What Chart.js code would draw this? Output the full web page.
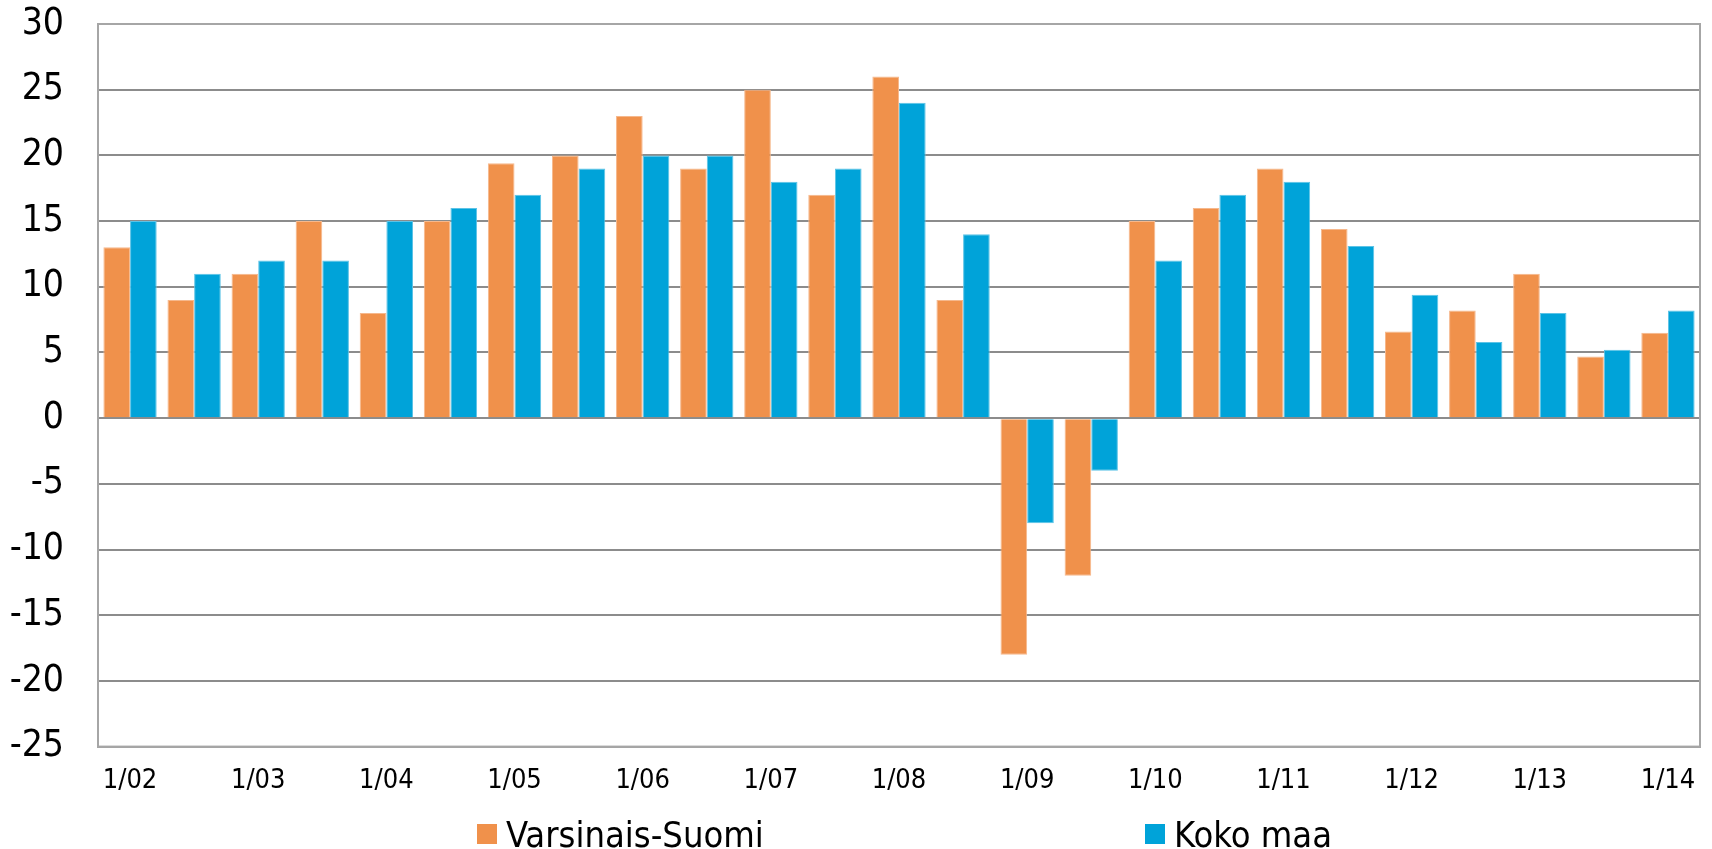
<!DOCTYPE html>
<html>
<head>
<meta charset="utf-8">
<script src="https://cdn.jsdelivr.net/npm/chart.js@4.4.1/dist/chart.umd.min.js"></script>
<style>
  html, body { margin: 0; padding: 0; background: #fff; }
  #wrap { position: relative; width: 1712px; height: 849px; }
  #legend .item { position: absolute; top: 814px; height: 40px; display: flex; align-items: center;
    font-family: 'Liberation Sans Narrow', 'DejaVu Sans Condensed', 'Liberation Sans', sans-serif;
    font-size: 36px; color: #000; white-space: nowrap; }
  #legend .box { width: 20px; height: 20px; margin-right: 9px; }
</style>
</head>
<body>
<div id="wrap">
  <canvas id="barChart" width="1712" height="849"></canvas>
  <div id="legend"></div>
</div>
<script>
// vuosineljännekset, joka toinen nimetty
var kvartaalit = ['1/02', '', '1/03', '', '1/04', '', '1/05', '', '1/06', '', '1/07', '', '1/08', '',
                  '1/09', '', '1/10', '', '1/11', '', '1/12', '', '1/13', '', '1/14'];

var varsinaisSuomi = [13, 9, 11, 15, 8, 15, 19.4, 20, 23, 19, 25, 17, 26, 9,
                      -18, -12, 15, 16, 19, 14.4, 6.6, 8.2, 11, 4.7, 6.5];

var kokoMaa = [15, 11, 12, 12, 15, 16, 17, 19, 20, 20, 18, 19, 24, 14,
               -8, -4, 12, 17, 18, 13.1, 9.4, 5.8, 8, 5.2, 8.2];

var sarjaNimet = ['Varsinais-Suomi', 'Koko maa'];
var yTicks = [-25, -20, -15, -10, -5, 0, 5, 10, 15, 20, 25, 30];

var fontti = "'Liberation Sans Narrow', 'DejaVu Sans Condensed', 'Liberation Sans', sans-serif";

// kehys kaavioalueen ympärille
var kehys = {
  id: 'kehys',
  afterDraw: function (chart) {
    var a = chart.chartArea;
    var ctx = chart.ctx;
    ctx.save();
    ctx.strokeStyle = '#a6a6a6';
    ctx.lineWidth = 2;
    ctx.strokeRect(a.left, a.top, a.right - a.left, a.bottom - a.top);
    ctx.restore();
  }
};

var ctx = document.getElementById('barChart').getContext('2d');

var chart = new Chart(ctx, {
  type: 'bar',
  data: {
    labels: kvartaalit,
    datasets: [
      {
        label: sarjaNimet[0],
        data: varsinaisSuomi,
        backgroundColor: '#F0914B',
        borderColor: '#F6B88C',
        borderWidth: 1
      },
      {
        label: sarjaNimet[1],
        data: kokoMaa,
        backgroundColor: '#00A3D9',
        borderColor: '#5CC3E6',
        borderWidth: 1
      }
    ]
  },
  options: {
    responsive: false,
    animation: false,
    layout: { padding: { top: 24, right: 12, bottom: 42, left: 0 } },
    datasets: {
      bar: { categoryPercentage: 0.832, barPercentage: 1.0 }
    },
    plugins: {
      legend: { display: false },
      tooltip: { enabled: false }
    },
    scales: {
      x: {
        grid: { display: false },
        border: { display: true, color: '#a6a6a6', width: 2 },
        ticks: {
          autoSkip: false,
          maxRotation: 0,
          minRotation: 0,
          padding: 10,
          color: '#000',
          font: { family: fontti, size: 27 }
        }
      },
      y: {
        min: -25,
        max: 30,
        afterFit: function (scale) {
          scale.width = 98;
          // ei ylimääräistä tilaa ylä- ja alapäähän
          scale.paddingTop = 0;
          scale.paddingBottom = 0;
        },
        afterBuildTicks: function (scale) {
          scale.ticks = yTicks.map(function (v) { return { value: v }; });
        },
        grid: { color: '#8c8c8c', lineWidth: 2, drawTicks: false },
        border: { display: true, color: '#a6a6a6', width: 2 },
        ticks: {
          padding: 34,
          color: '#000',
          font: { family: fontti, size: 37 }
        }
      }
    }
  },
  plugins: [kehys]
});

// selite HTML:nä
var vasen = [477, 1145];
var legend = document.getElementById('legend');
chart.data.datasets.forEach(function (ds, i) {
  var item = document.createElement('div');
  item.className = 'item';
  item.style.left = vasen[i] + 'px';
  var box = document.createElement('span');
  box.className = 'box';
  box.style.background = ds.backgroundColor;
  var txt = document.createElement('span');
  txt.textContent = ds.label;
  item.appendChild(box);
  item.appendChild(txt);
  legend.appendChild(item);
});
</script>
</body>
</html>
